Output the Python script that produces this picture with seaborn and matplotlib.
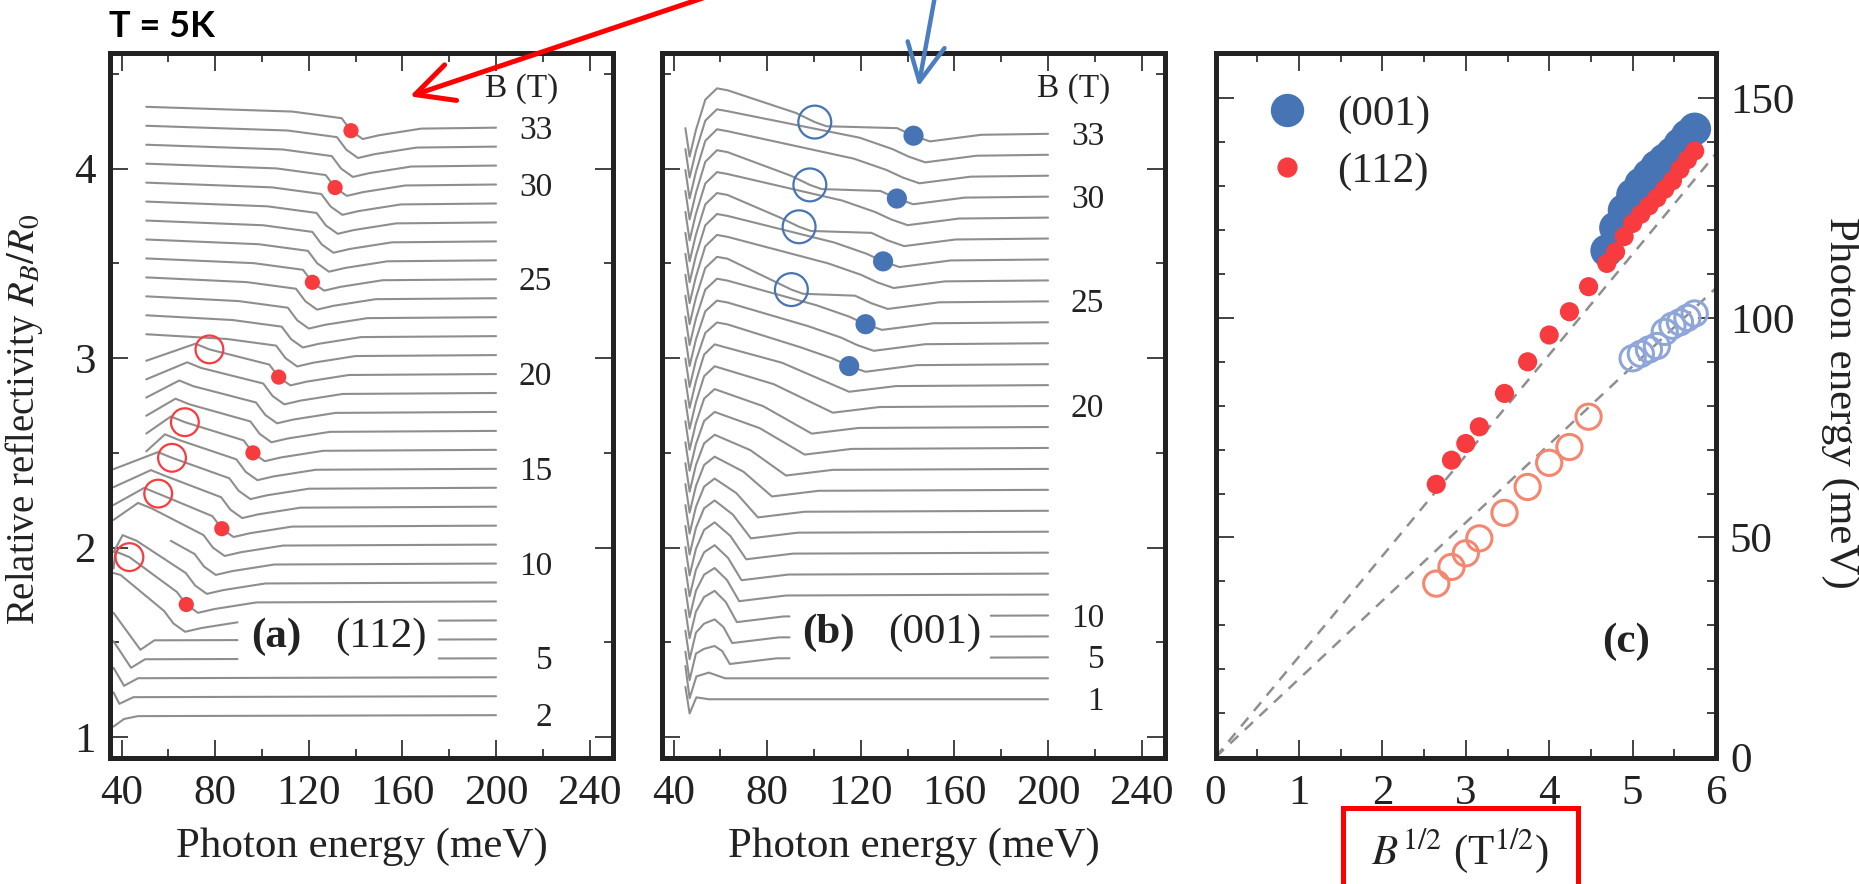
import matplotlib
matplotlib.use("Agg")
import numpy as np
import pandas as pd
import matplotlib.pyplot as plt
import seaborn as sns
from matplotlib.patches import Rectangle, FancyArrowPatch
from matplotlib.lines import Line2D
from matplotlib.ticker import MultipleLocator

sns.set_theme(style="white")
plt.rcParams["font.family"] = ["Liberation Serif", "DejaVu Serif"]
plt.rcParams["mathtext.fontset"] = "stix"

# ---------------- panel (a): (112) spectra ----------------
a_fields = [2, 3, 4, 5, 6, 7, 8, 9, 10, 11, 12, 13, 14, 15, 16, 17,
            18, 19, 20, 21, 22, 23, 24, 25, 26, 27, 28, 29, 30, 31, 32, 33]
a_first_E = [36.5, 36.5, 36.5, 36.5, 36.5, 36.5, 36.5, 36.5, 61.0, 36.5,
             36.5, 36.5, 36.5, 50.5, 50.5, 50.5, 50.5, 50.5, 50.5, 50.5,
             50.5, 50.5, 50.5, 50.5, 50.5, 50.5, 50.5, 50.5, 50.5, 50.5,
             50.5, 50.5]
a_base, a_shift = 1.116, 0.10          # level of the 2 T trace, offset per trace

# low-field traces (2-6 T): start level, dip energy, dip level
a_low_fields = [2, 3, 4, 5, 6]
a_low_start = [-0.06, 0.02, 0.05, 0.09, 0.14]
a_low_dip_E = [41.0, 39.0, 41.0, 44.0, 48.0]
a_low_dip = [-0.02, -0.04, -0.045, -0.05, -0.055]

# step energy (filled dot) for 7..33 T
a_step_E = [62.1, 67.6, 71.4, 75.2, 79.0, 82.8, 86.5, 90.0, 93.0, 96.1,
            99.0, 101.4, 104.5, 107.1, 110.0, 112.4, 115.0, 118.5, 121.5,
            123.6, 125.5, 127.3, 129.3, 131.2, 133.8, 136.0, 138.0]
# kink energy (open circle) and its level for 7..20 T
a_kink_E = [39.5, 43.3, 46.4, 49.8, 53.0, 55.6, 58.5, 61.5, 64.5, 67.0,
            69.0, 70.6, 74.0, 77.5]
a_kink_rel = [0.24, 0.234, 0.22, 0.21, 0.19, 0.169, 0.163, 0.158, 0.152,
              0.146, 0.14, 0.136, 0.132, 0.13]
a_broken = [5, 6, 7]
a_dot_fields = [8, 12, 16, 20, 25, 30, 33]
a_ring_fields = [8, 12, 14, 16, 20]
a_label_fields = [33, 30, 25, 20, 15, 10, 5, 2]

# ---------------- panel (b): (001) spectra ----------------
b_fields = [1, 3, 5, 7, 10, 11, 12, 13, 14, 15, 16, 17, 18, 19, 20, 21,
            22, 23, 24, 25, 26, 27, 28, 29, 30, 31, 32, 33]
b_base, b_shift = 1.20, 0.1105
b_peak = [0.0, 0.03, 0.06, 0.09, 0.13, 0.14, 0.15, 0.16, 0.165, 0.17,
          0.175, 0.18, 0.19, 0.20, 0.21, 0.215, 0.22, 0.225, 0.23, 0.235,
          0.24, 0.24, 0.24, 0.24, 0.245, 0.245, 0.24, 0.24]
b_dip_E = [0.0, 58.0, 64.0, 65.0, 67.0, 68.0, 69.0, 71.0, 73.0, 76.0,
           82.0, 88.0, 96.0, 99.0, 108.0, 115.0, 122.0, 125.5, 129.0,
           131.5, 134.0, 136.5, 138.5, 140.0, 142.4, 145.0, 147.5, 149.5]
b_kink = {25: 90.3, 28: 93.6, 30: 98.2, 33: 100.3}
b_broken = [5, 7, 10]
b_dot_fields = [22, 24, 27, 30, 33]
b_label_fields = [33, 30, 25, 20, 10, 5, 1]

# ---------------- panel (c): peak positions ----------------
c112_B = [7, 8, 9, 10, 12, 14, 16, 18, 20, 22, 23, 24, 25, 26, 27, 28, 29,
          30, 31, 32, 33]
c112_E = [62.1, 67.6, 71.4, 75.2, 82.8, 90.0, 96.1, 101.4, 107.1, 112.4,
          115.0, 118.5, 121.5, 123.6, 125.5, 127.3, 129.3, 131.2, 133.8,
          136.0, 138.0]
c112o_B = [7, 8, 9, 10, 12, 14, 16, 18, 20]
c112o_E = [39.5, 43.3, 46.4, 49.8, 55.6, 61.5, 67.0, 70.6, 77.5]
c001_B = [22, 23, 24, 25, 26, 27, 28, 29, 30, 31, 32, 33]
c001_E = [115.3, 120.5, 124.5, 128.0, 130.5, 132.5, 134.5, 136.0, 137.5,
          139.5, 141.5, 143.0]
c001o_B = [25, 26, 27, 28, 29, 30, 31, 32, 33]
c001o_E = [90.8, 91.8, 92.8, 93.6, 96.8, 98.2, 99.0, 100.0, 101.0]
fit_slopes = [22.9, 17.8]              # meV per T^1/2

GRAY = "#8e8e8e"
RED = "#f73b3f"
RED_LIGHT = "#f5866f"
BLUE = "#4674b4"
BLUE_LIGHT = "#8ea6d8"
INK = "#222222"
GAP = (89.5, 175.5)


def split_gap(pts, broken):
    E = np.array([p[0] for p in pts])
    R = np.array([p[1] for p in pts])
    if not broken:
        return [(E, R)]
    left = E <= GAP[0]
    right = E >= GAP[1]
    EL = np.append(E[left], GAP[0])
    RL = np.append(R[left], np.interp(GAP[0], E, R))
    ER = np.insert(E[right], 0, GAP[1])
    RR = np.insert(R[right], 0, np.interp(GAP[1], E, R))
    return [(EL, RL), (ER, RR)]


def traces_a():
    rows = []
    for i, B in enumerate(a_fields):
        start = a_first_E[i]
        if B in a_low_fields:
            k = a_low_fields.index(B)
            pts = [(start, a_low_start[k]), (a_low_dip_E[k], a_low_dip[k]),
                   (a_low_dip_E[k] + 6, -0.005), (200, 0.0)]
        else:
            j = B - 7
            Ef = a_step_E[j]
            pts = []
            if B <= 20:
                kE, kr = a_kink_E[j], a_kink_rel[j]
                if start > kE:
                    pts.append((start, 0.12))
                else:
                    if start < kE - 6:
                        pts += [(start, kr - 0.06), (kE - 6, kr + 0.03)]
                    else:
                        pts.append((start, kr + 0.01))
                    pts.append((kE, kr))
            else:
                pts += [(start, 0.11), (Ef - 25, 0.085)]
            pts += [(Ef - 4, 0.05), (Ef, -0.016), (Ef + 5, -0.06),
                    (Ef + 12, -0.04), (Ef + 30, -0.005), (200, 0.0)]
        lvl = a_base + a_shift * i
        for s, (E, R) in enumerate(split_gap(pts, B in a_broken)):
            for e, r in zip(E, R):
                rows.append({"trace": f"{B}-{s}", "E": e, "R": r + lvl})
    return pd.DataFrame(rows)


def traces_b():
    rows = []
    for i, B in enumerate(b_fields):
        pk, dE = b_peak[i], b_dip_E[i]
        if B <= 3:
            pts = [(45.0, 0.065), (46.8, -0.075 - 0.03 * (B == 3)),
                   (49.7, 0.01), (55.0, pk), (62.0, 0.0), (200, 0.0)]
        elif B < 22:
            pts = [(45.0, 0.03), (46.8, -0.12), (49.5, 0.02),
                   (53.0, pk * 0.75), (57.5, pk),
                   ((57.5 + dE) / 2, pk * 0.55), (dE, -0.035),
                   (dE + 20, -0.005), (200, 0.0)]
        else:
            pts = [(45.0, 0.03), (46.8, -0.12), (49.5, 0.02),
                   (53.5, pk * 0.75), (58.5, pk), (63.0, pk - 0.01)]
            if B in b_kink:
                kE = b_kink[B]
                pts += [(kE - 8, 0.11), (kE, 0.062), (kE + 5, 0.04)]
            else:
                pts += [(dE - 28, 0.09)]
            pts += [(dE - 14, 0.03), (dE - 7, -0.01), (dE, -0.04),
                    (dE + 22, -0.005), (200, 0.0)]
        lvl = b_base + b_shift * i
        for s, (E, R) in enumerate(split_gap(pts, B in b_broken)):
            for e, r in zip(E, R):
                rows.append({"trace": f"{B}-{s}", "E": e, "R": r + lvl})
    return pd.DataFrame(rows)


fig = plt.figure(figsize=(18.59, 8.84), dpi=100)
H = 705 / 884
B0 = 1 - 758 / 884
ax_a = fig.add_axes([110 / 1859, B0, 503 / 1859, H])
ax_b = fig.add_axes([662 / 1859, B0, 503 / 1859, H])
ax_c = fig.add_axes([1215.6 / 1859, B0, 500.4 / 1859, H])

for ax in (ax_a, ax_b, ax_c):
    for sp in ax.spines.values():
        sp.set_linewidth(3.6)
        sp.set_color(INK)
    ax.tick_params(which="both", direction="in", top=True, right=True,
                   bottom=True, left=True, color=INK, width=1.2,
                   labelsize=31, labelcolor=INK)
    ax.tick_params(which="major", length=13)
    ax.tick_params(which="minor", length=6.5)
    ax.grid(False)

# ---- spectra panels ----
for ax, df in ((ax_a, traces_a()), (ax_b, traces_b())):
    sns.lineplot(data=df, x="E", y="R", units="trace", estimator=None,
                 sort=False, color=GRAY, lw=1.5, ax=ax, legend=False)
    ax.set_xlim(35, 250)
    ax.set_ylim(0.89, 4.61)
    ax.xaxis.set_major_locator(MultipleLocator(40))
    ax.xaxis.set_minor_locator(MultipleLocator(20))
    ax.yaxis.set_major_locator(MultipleLocator(1))
    ax.yaxis.set_minor_locator(MultipleLocator(0.5))
    ax.set_xlabel("Photon energy (meV)", fontsize=31, color=INK)
    ax.xaxis.set_label_coords(0.5, -0.098)
    ax.tick_params(axis="x", pad=12)

ax_a.set_ylabel(r"Relative reflectivity $R_B/R_0$", fontsize=28, color=INK)
ax_a.yaxis.set_label_coords(-0.13, 0.48)
ax_a.tick_params(axis="y", pad=10)
ax_b.set_ylabel("")
ax_b.tick_params(axis="y", labelleft=False)

# markers on panel (a)
lvl_a = {B: a_base + a_shift * i for i, B in enumerate(a_fields)}
sns.scatterplot(x=[a_step_E[B - 7] for B in a_dot_fields],
                y=[lvl_a[B] - 0.016 for B in a_dot_fields],
                s=120, color=RED, edgecolor="none", zorder=5, ax=ax_a)
sns.scatterplot(x=[a_kink_E[B - 7] for B in a_ring_fields],
                y=[lvl_a[B] + a_kink_rel[B - 7] for B in a_ring_fields],
                s=400, fc="none", ec=RED, linewidth=1.6, zorder=5, ax=ax_a)

# markers on panel (b)
lvl_b = {B: b_base + b_shift * i for i, B in enumerate(b_fields)}
sns.scatterplot(x=[b_dip_E[b_fields.index(B)] - 7 for B in b_dot_fields],
                y=[lvl_b[B] - 0.01 for B in b_dot_fields],
                s=210, color=BLUE, edgecolor="none", zorder=5, ax=ax_b)
sns.scatterplot(x=list(b_kink.values()),
                y=[lvl_b[B] + 0.062 for B in b_kink],
                s=560, fc="none", ec=BLUE, linewidth=1.6, zorder=5, ax=ax_b)

# field labels
for ax, lvl, fields in ((ax_a, lvl_a, a_label_fields),
                        (ax_b, lvl_b, b_label_fields)):
    ax.text(211, 4.42, "B (T)", fontsize=24, ha="center", va="center",
            color=INK)
    for B in fields:
        ax.text(224, lvl[B] - 0.015, str(B), fontsize=24, ha="right",
                va="center", color=INK)

ax_a.text(106, 1.53, "(a)", fontsize=31, fontweight="bold", ha="center",
          va="center", color=INK)
ax_a.text(150.7, 1.53, "(112)", fontsize=31, ha="center", va="center",
          color=INK)
ax_b.text(106, 1.55, "(b)", fontsize=31, fontweight="bold", ha="center",
          va="center", color=INK)
ax_b.text(151.4, 1.55, "(001)", fontsize=31, ha="center", va="center",
          color=INK)

# ---- panel (c) ----
for s in fit_slopes:
    ax_c.plot([0, 6], [0, 6 * s], ls=(0, (4.5, 3.5)), color="#8f8f8f",
              lw=1.8, zorder=1)
sns.scatterplot(x=np.sqrt(c001_B), y=c001_E, s=560, color=BLUE,
                edgecolor="none", zorder=3, ax=ax_c)
sns.scatterplot(x=np.sqrt(c112_B), y=c112_E, s=190, color=RED,
                edgecolor="none", zorder=4, ax=ax_c)
sns.scatterplot(x=np.sqrt(c112o_B), y=c112o_E, s=330, fc="none",
                ec=RED_LIGHT, linewidth=2.2, zorder=3, ax=ax_c)
sns.scatterplot(x=np.sqrt(c001o_B), y=c001o_E, s=330, fc="none",
                ec=BLUE_LIGHT, linewidth=2.2, zorder=3, ax=ax_c)
ax_c.set_xlim(0, 6)
ax_c.set_ylim(-0.2, 160.3)
ax_c.xaxis.set_major_locator(MultipleLocator(1))
ax_c.xaxis.set_minor_locator(MultipleLocator(0.5))
ax_c.yaxis.set_major_locator(MultipleLocator(50))
ax_c.yaxis.set_minor_locator(MultipleLocator(10))
ax_c.tick_params(axis="y", labelleft=False, labelright=True, pad=10)
ax_c.tick_params(axis="x", pad=12)
ax_c.set_xlabel(r"$B^{1/2}$ (T$^{1/2}$)", fontsize=31, color=INK)
ax_c.xaxis.set_label_coords(0.488, -0.097)
ax_c.yaxis.set_label_position("right")
ax_c.set_ylabel("Photon energy (meV)", fontsize=31, rotation=270,
                color=INK, va="center")
ax_c.yaxis.set_label_coords(1.248, 0.504)
ax_c.text(4.92, 26.2, "(c)", fontsize=31, fontweight="bold", ha="center",
          va="center", color=INK)
handles = [Line2D([], [], ls="none", marker="o", ms=23, color=BLUE),
           Line2D([], [], ls="none", marker="o", ms=13.5, color=RED)]
ax_c.legend(handles, ["(001)", "(112)"], loc="upper left",
            bbox_to_anchor=(0.1, 0.94), frameon=False, fontsize=31,
            handlelength=1.0, handletextpad=0.66, labelspacing=0.4,
            borderaxespad=0, borderpad=0)

# ---- annotations on the figure ----
fig.text(109 / 1859, 1 - 26.5 / 884, "T = 5K", fontsize=26,
         fontweight="bold", family=["Lato", "DejaVu Sans"], va="center",
         ha="left", color="black")
fig.add_artist(FancyArrowPatch((0.382, 1.005), (0.219, 0.890),
                               transform=fig.transFigure,
                               arrowstyle="->,head_length=0.9,head_width=0.45",
                               mutation_scale=30, lw=3.6, color="#ff0000"))
fig.add_artist(FancyArrowPatch((0.503, 1.005), (0.4938, 0.899),
                               transform=fig.transFigure,
                               arrowstyle="->,head_length=0.9,head_width=0.45",
                               mutation_scale=30, lw=3.2, color="#4a7ec0"))
fig.add_artist(Rectangle((1343 / 1859, 1 - 886 / 884), 235 / 1859, 78 / 884,
                         transform=fig.transFigure, fill=False,
                         ec="#ff0000", lw=3.6, clip_on=False))

fig.savefig("out.png", dpi=100)
